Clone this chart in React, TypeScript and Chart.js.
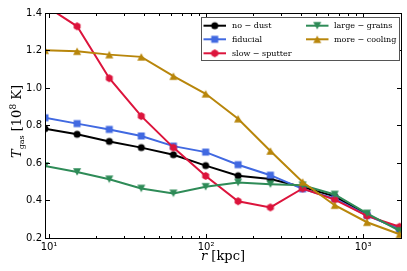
import React, { useEffect, useRef } from "react";
import { Chart, registerables } from "chart.js";
Chart.register(...registerables);

const radiusKpc = [9.43, 15.1, 24.2, 38.7, 62.0, 99.5, 160, 257, 412, 660, 1060, 1710];
const noDust = [0.783, 0.753, 0.715, 0.682, 0.644, 0.586, 0.532, 0.515, 0.472, 0.422, 0.325, 0.245];
const fiducial = [0.841, 0.81, 0.779, 0.744, 0.69, 0.658, 0.591, 0.535, 0.462, 0.41, 0.32, 0.25];
const slowSputter = [1.44, 1.329, 1.052, 0.85, 0.682, 0.531, 0.396, 0.363, 0.464, 0.405, 0.318, 0.26];
const largeGrains = [0.584, 0.552, 0.513, 0.464, 0.438, 0.473, 0.496, 0.487, 0.481, 0.432, 0.331, 0.238];
const moreCooling = [1.201, 1.196, 1.178, 1.166, 1.063, 0.969, 0.836, 0.664, 0.499, 0.375, 0.284, 0.22];
const seriesLabels = ["no − dust", "fiducial", "slow − sputter", "large − grains", "more − cooling"];
const xMajorTicks = [10, 100, 1000];
const xTickLabels = ["10¹", "10²", "10³"];
const yTicks = [0.2, 0.4, 0.6, 0.8, 1.0, 1.2, 1.4];

const seriesValues = [noDust, fiducial, slowSputter, largeGrains, moreCooling];
const seriesColors = ["#000000", "#4169e1", "#dc143c", "#2e8b57", "#b8860b"];
const seriesMarkers = ["circle", "square", "hexagon", "triDown", "triUp"];

function makeMarker(kind: string, color: string): HTMLCanvasElement {
  const s = 12;
  const c = document.createElement("canvas");
  c.width = s;
  c.height = s;
  const g = c.getContext("2d")!;
  const m = s / 2;
  g.fillStyle = color;
  g.beginPath();
  if (kind === "circle") g.arc(m, m, 3.5, 0, Math.PI * 2);
  else if (kind === "square") g.rect(m - 3.5, m - 3.5, 7, 7);
  else if (kind === "hexagon") {
    for (let i = 0; i < 6; i++) {
      const a = -Math.PI / 2 + (i * Math.PI) / 3;
      g.lineTo(m + 4 * Math.cos(a), m + 4 * Math.sin(a));
    }
    g.closePath();
  } else if (kind === "triDown") {
    g.moveTo(m - 4, m - 3.8);
    g.lineTo(m + 4, m - 3.8);
    g.lineTo(m, m + 3.8);
    g.closePath();
  } else {
    g.moveTo(m, m - 3.8);
    g.lineTo(m + 4, m + 3.8);
    g.lineTo(m - 4, m + 3.8);
    g.closePath();
  }
  g.fill();
  return c;
}

type Part = { t: string; font: string; dy?: number; gap?: number };

function drawRich(ctx: CanvasRenderingContext2D, parts: Part[], x: number, y: number) {
  let total = 0;
  for (const p of parts) {
    ctx.font = p.font;
    total += ctx.measureText(p.t).width + (p.gap || 0);
  }
  let cx = x - total / 2;
  for (const p of parts) {
    ctx.font = p.font;
    cx += p.gap || 0;
    ctx.fillText(p.t, cx, y + (p.dy || 0));
    cx += ctx.measureText(p.t).width;
  }
}

export default function App() {
  const ref = useRef<HTMLCanvasElement>(null);
  useEffect(() => {
    const canvas = ref.current!;
    const markers = seriesMarkers.map((k, i) => makeMarker(k, seriesColors[i]));

    const framePlugin = {
      id: "frame",
      afterDatasetsDraw(chart: any) {
        const { ctx, chartArea: a, scales } = chart;
        const xs = scales.x;
        const ys = scales.y;
        ctx.save();
        ctx.strokeStyle = "#000";
        ctx.lineWidth = 1;
        ctx.beginPath();
        const L = Math.round(a.left) + 0.5;
        const R = Math.round(a.right) + 0.5;
        const T = Math.round(a.top) + 0.5;
        const B = Math.round(a.bottom) + 0.5;
        for (let d = 1; d <= 3; d++) {
          for (let k = 1; k <= 9; k++) {
            const v = k * Math.pow(10, d);
            if (v < xs.min || v > xs.max) continue;
            const px = Math.round(xs.getPixelForValue(v)) + 0.5;
            const len = k === 1 ? 4.5 : 2.5;
            ctx.moveTo(px, B);
            ctx.lineTo(px, B - len);
            ctx.moveTo(px, T);
            ctx.lineTo(px, T + len);
          }
        }
        for (const v of yTicks) {
          const py = Math.round(ys.getPixelForValue(v)) + 0.5;
          ctx.moveTo(L, py);
          ctx.lineTo(L + 4.5, py);
          ctx.moveTo(R, py);
          ctx.lineTo(R - 4.5, py);
        }
        ctx.stroke();
        ctx.strokeRect(L, T, R - L, B - T);
        ctx.restore();
      },
      afterDraw(chart: any) {
        const { ctx, chartArea: a } = chart;
        ctx.save();
        ctx.fillStyle = "#000";
        ctx.textBaseline = "alphabetic";
        // x title
        drawRich(
          ctx,
          [
            { t: "r", font: 'italic 13px "DejaVu Serif"' },
            { t: " [kpc]", font: '13px "DejaVu Serif"' },
          ],
          (a.left + a.right) / 2,
          260
        );
        // y title
        ctx.save();
        ctx.translate(21, 121.5);
        ctx.rotate(-Math.PI / 2);
        drawRich(
          ctx,
          [
            { t: "T", font: 'italic 13px "DejaVu Serif"' },
            { t: "gas", font: '8px "DejaVu Serif"', dy: 3 },
            { t: " [10", font: '13px "DejaVu Serif"' },
            { t: "8", font: '9px "DejaVu Serif"', dy: -5 },
            { t: " K]", font: '13px "DejaVu Serif"' },
          ],
          0,
          0
        );
        ctx.restore();

        // legend
        const bx = 201.5, by = 17.5, bw = 198, bh = 43;
        ctx.fillStyle = "#fff";
        ctx.fillRect(bx, by, bw, bh);
        ctx.strokeStyle = "#555";
        ctx.lineWidth = 1;
        ctx.strokeRect(bx, by, bw, bh);
        const cols = [
          { x0: 203.5, x1: 226, tx: 232 },
          { x0: 306, x1: 328.5, tx: 334 },
        ];
        const rows = [25.7, 39.3, 53.3];
        ctx.textBaseline = "middle";
        ctx.font = '8px "DejaVu Serif"';
        seriesLabels.forEach((lab, i) => {
          const col = cols[i < 3 ? 0 : 1];
          const y = rows[i < 3 ? i : i - 3];
          ctx.strokeStyle = seriesColors[i];
          ctx.lineWidth = 2;
          ctx.beginPath();
          ctx.moveTo(col.x0, y);
          ctx.lineTo(col.x1, y);
          ctx.stroke();
          const mk = markers[i];
          ctx.drawImage(mk, (col.x0 + col.x1) / 2 - mk.width / 2, y - mk.height / 2);
          ctx.fillStyle = "#000";
          ctx.fillText(lab, col.tx, y + 0.5);
        });
        ctx.restore();
      },
    };

    const chart = new Chart(canvas, {
      type: "line",
      data: {
        datasets: seriesValues.map((vals, i) => ({
          label: seriesLabels[i],
          data: radiusKpc.map((r, j) => ({ x: r, y: vals[j] })),
          borderColor: seriesColors[i],
          backgroundColor: seriesColors[i],
          borderWidth: 2,
          pointStyle: markers[i],
          pointRadius: 4,
          pointHoverRadius: 4,
          tension: 0,
          clip: 0,
          order: 4 - i,
        })),
      },
      options: {
        responsive: false,
        animation: false,
        events: [],
        layout: { padding: { top: 13, right: 5, left: 0, bottom: 0 } },
        plugins: { legend: { display: false }, tooltip: { enabled: false } },
        scales: {
          x: {
            type: "logarithmic",
            min: 9.43,
            max: 1745,
            grid: { display: false, drawTicks: false },
            border: { display: false },
            afterBuildTicks: (s: any) => {
              s.ticks = xMajorTicks.map((v) => ({ value: v, major: true }));
            },
            afterFit: (s: any) => {
              s.height = 33;
            },
            ticks: {
              autoSkip: false,
              maxRotation: 0,
              padding: 3,
              color: "#000",
              font: { family: "DejaVu Sans", size: 10 },
              callback: (v: any) => xTickLabels[xMajorTicks.indexOf(Number(v))] ?? "",
            },
          },
          y: {
            type: "linear",
            min: 0.2,
            max: 1.4,
            grid: { display: false, drawTicks: false },
            border: { display: false },
            afterBuildTicks: (s: any) => {
              s.ticks = yTicks.map((v) => ({ value: v }));
            },
            afterFit: (s: any) => {
              s.width = 45;
            },
            ticks: {
              padding: 3,
              color: "#000",
              font: { family: "DejaVu Sans", size: 10 },
              callback: (v: any) => Number(v).toFixed(1),
            },
          },
        },
      },
      plugins: [framePlugin],
    } as any);
    return () => chart.destroy();
  }, []);
  return (
    <div style={{ position: "fixed", left: 0, top: 0, width: 407, height: 271, background: "#fff" }}>
      <canvas ref={ref} width={407} height={271} style={{ width: 407, height: 271, display: "block" }} />
    </div>
  );
}
